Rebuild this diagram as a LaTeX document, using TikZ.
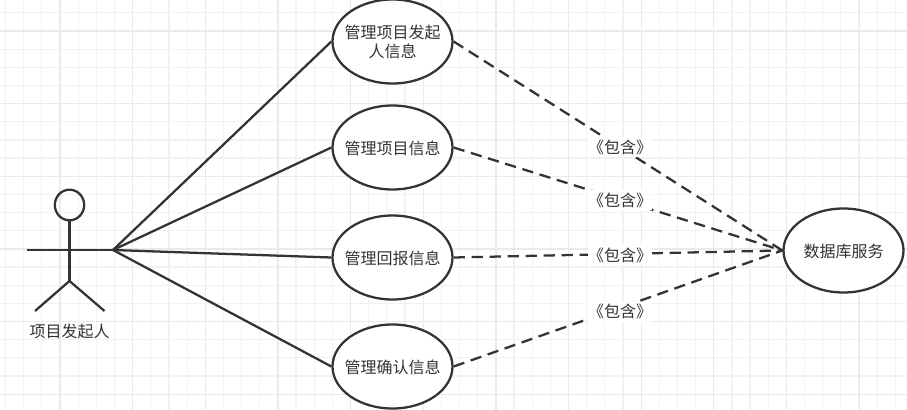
\documentclass[tikz,border=0pt]{standalone}
\usepackage{fontspec}
\setmainfont{Noto Sans CJK SC}
\usetikzlibrary{shapes.geometric}
\definecolor{grisTinta}{HTML}{333333}
\definecolor{grisMalla}{HTML}{F2F2F2}
\definecolor{grisMallaFuerte}{HTML}{EAEAEA}
\tikzset{
  casoUso/.style={draw=grisTinta,fill=white,ellipse,line width=1.7pt,inner ysep=0pt,inner xsep=-6pt,minimum width=90pt,minimum height=63pt,align=center,text=grisTinta,text height=11pt,text depth=1.2pt,font=\fontsize{12}{14.5}\selectfont},
  trazoActor/.style={draw=grisTinta,line width=1.7pt},
  trazoIncluye/.style={draw=grisTinta,line width=1.7pt,dash pattern=on 8.5pt off 5pt},
  rotuloIncluye/.style={fill=white,inner sep=0pt,minimum width=48pt,minimum height=15pt,text=grisTinta,xshift=1.5pt,yshift=-1pt,font=\fontsize{12}{14.5}\selectfont}
}
\begin{document}
\begin{tikzpicture}[x=0.75pt,y=-0.75pt]
    \useasboundingbox (0,0) rectangle (907,410);
    \foreach \i in {0,...,50}
      \draw[grisMalla,line width=0.9pt] ({5.5+18.16*\i},0) -- ({5.5+18.16*\i},410);
    \foreach \i in {0,...,23}
      \draw[grisMalla,line width=0.9pt] (0,{12.8+18.16*\i}) -- (907,{12.8+18.16*\i});
    \foreach \i in {0,...,12}
      \draw[grisMallaFuerte,line width=0.9pt] ({60-72.65+72.65*\i},0) -- ({60-72.65+72.65*\i},410);
    \foreach \i in {0,...,5}
      \draw[grisMallaFuerte,line width=0.9pt] (0,{31+72.65*\i}) -- (907,{31+72.65*\i});

    \node[draw=grisTinta,ellipse,line width=1.7pt,inner sep=0pt,minimum width=22pt,minimum height=23pt] (cabeza) at (69.5,205) {};
    \coordinate (cadera) at (69.5,281);
    \coordinate (hombroIzq) at (27,250);
    \coordinate (mano) at (113,250);
    \coordinate (pieIzq) at (35,311);
    \coordinate (pieDer) at (104.5,311);
    \node[text=grisTinta,inner sep=0pt,font=\fontsize{12}{14.5}\selectfont] (actor) at (69.5,331) {项目发起人};

    \node[casoUso,text height=25.6pt] (gestorFundador) at (392.5,41.5) {管理项目发起\\人信息};
    \node[casoUso] (gestorProyecto) at (392.5,147.5) {管理项目信息};
    \node[casoUso] (gestorRetorno) at (392.5,257.5) {管理回报信息};
    \node[casoUso] (gestorConfirma) at (392.5,366.5) {管理确认信息};
    \node[casoUso] (baseDatos) at (843.5,250.5) {数据库服务};

    \draw[trazoActor] (cabeza.south) -- (cadera);
    \draw[trazoActor] (hombroIzq) -- (mano);
    \draw[trazoActor] (pieIzq) -- (cadera) -- (pieDer);
    \draw[trazoActor] (mano) -- (gestorFundador.west);
    \draw[trazoActor] (mano) -- (gestorProyecto.west);
    \draw[trazoActor] (mano) -- (gestorRetorno.west);
    \draw[trazoActor] (mano) -- (gestorConfirma.west);

    \draw[trazoIncluye] (gestorFundador.east) -- node[rotuloIncluye] (incluyeA) {《包含》} (baseDatos.west);
    \draw[trazoIncluye] (gestorProyecto.east) -- node[rotuloIncluye] (incluyeB) {《包含》} (baseDatos.west);
    \draw[trazoIncluye] (gestorRetorno.east) -- node[rotuloIncluye] (incluyeC) {《包含》} (baseDatos.west);
    \draw[trazoIncluye] (gestorConfirma.east) -- node[rotuloIncluye,yshift=-1.5pt] (incluyeD) {《包含》} (baseDatos.west);
\end{tikzpicture}
\end{document}
